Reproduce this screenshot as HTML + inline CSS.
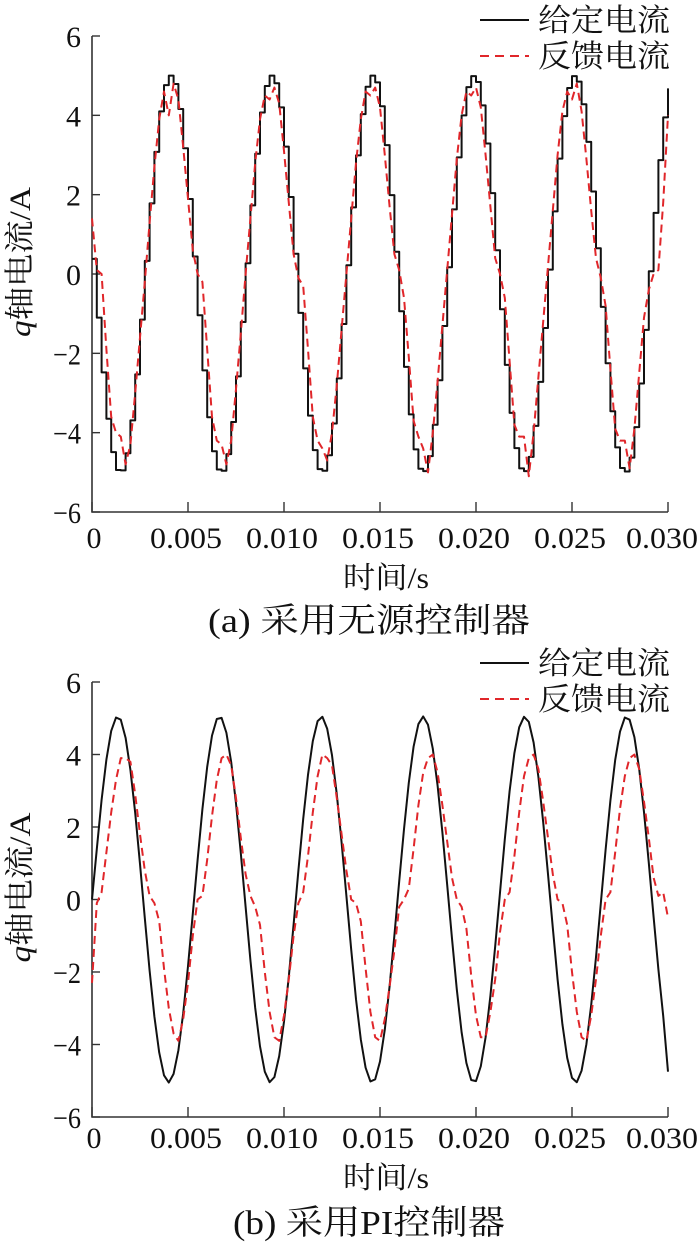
<!DOCTYPE html>
<html><head><meta charset="utf-8">
<style>
html,body{margin:0;padding:0;background:#fff;}
svg{display:block;}
text{font-family:"Liberation Serif","Noto Serif CJK SC","Noto Sans CJK SC",serif;fill:#111;}
</style></head>
<body>
<svg id="chart" xmlns="http://www.w3.org/2000/svg" width="700" height="1247" viewBox="0 0 700 1247"></svg>
<script>
const xTicks=[0,0.005,0.010,0.015,0.020,0.025,0.030];
const xTickLabels=["0","0.005","0.010","0.015","0.020","0.025","0.030"];
const yTicks=[6,4,2,0,-2,-4,-6];
const yTickLabels=["6","4","2","0","\u22122","\u22124","\u22126"];
const sampleDt=0.00025;
// panel (a): passive controller
const refA=[0.38,-1.10,-2.48,-3.65,-4.49,-4.94,-4.95,-4.52,-3.69,-2.53,-1.15,0.33,1.78,3.08,4.10,4.76,5.00,4.79,4.16,3.17,1.89,
0.44,-1.04,-2.43,-3.61,-4.47,-4.93,-4.96,-4.54,-3.73,-2.58,-1.21,0.27,1.73,3.03,4.07,4.74,5.00,4.81,4.20,3.21,1.94,
0.51,-0.98,-2.38,-3.57,-4.44,-4.92,-4.96,-4.57,-3.77,-2.63,-1.26,0.22,1.68,2.99,4.03,4.72,5.00,4.83,4.23,3.25,1.99,
0.56,-0.94,-2.34,-3.54,-4.42,-4.91,-4.97,-4.59,-3.80,-2.68,-1.31,0.17,1.63,2.94,4.00,4.71,4.99,4.84,4.25,3.29,2.04,
0.60,-0.89,-2.29,-3.50,-4.39,-4.90,-4.97,-4.61,-3.83,-2.72,-1.36,0.11,1.58,2.91,3.98,4.69,4.99,4.85,4.28,3.33,2.08,
0.65,-0.83,-2.25,-3.46,-4.37,-4.89,-4.98,-4.63,-3.86,-2.76,-1.41,0.07,1.54,2.87,3.95,4.68];
const fbA=[1.4,0.1,0.0,-1.9,-3.6,-4.0,-4.1,-4.8,-4.3,-3.0,-1.6,-0.2,1.3,2.7,3.9,4.6,4.0,4.8,4.4,3.2,1.9,
0.6,0.0,-0.2,-1.9,-3.6,-4.2,-4.3,-4.8,-4.2,-2.9,-1.5,0.0,1.4,2.8,3.9,4.5,4.4,4.7,4.3,3.1,1.8,
0.5,-0.1,-0.3,-1.9,-3.6,-4.2,-4.4,-4.7,-4.0,-2.8,-1.4,0.0,1.4,2.8,3.9,4.6,4.5,4.7,4.2,3.0,1.7,
0.5,0.1,-0.6,-2.1,-3.7,-4.1,-4.4,-5.0,-4.0,-2.7,-1.3,0.1,1.5,2.9,4.0,4.6,4.5,4.7,4.2,3.0,1.7,
0.4,0.0,-0.6,-2.2,-3.8,-4.1,-4.1,-5.1,-4.0,-2.6,-1.2,0.2,1.6,3.0,4.1,4.6,4.4,4.8,4.1,2.9,1.6,
0.4,-0.1,-0.8,-2.4,-3.9,-4.2,-4.2,-4.9,-3.9,-2.5,-1.1,-0.4,0.0,0.1,1.8,4.0];
// panel (b): PI controller
const refB=[0.0,1.39,2.75,3.86,4.65,5.02,4.96,4.46,3.58,2.39,0.98,-0.51,-1.96,-3.23,-4.22,-4.85,-5.05,-4.81,-4.16,-3.14,-1.84,
-0.39,1.09,2.49,3.66,4.52,4.98,5.01,4.60,3.79,2.65,1.28,-0.20,-1.67,-2.99,-4.05,-4.75,-5.04,-4.90,-4.32,-3.37,-2.13,
-0.69,0.80,2.22,3.44,4.37,4.92,5.04,4.71,3.98,2.90,1.57,0.10,-1.38,-2.75,-3.86,-4.64,-5.02,-4.96,-4.47,-3.59,-2.39,
-0.99,0.50,1.94,3.22,4.22,4.84,5.05,4.82,4.16,3.14,1.85,0.40,-1.08,-2.48,-3.66,-4.51,-4.98,-5.01,-4.60,-3.80,-2.66,
-1.29,0.19,1.66,2.99,4.04,4.75,5.04,4.90,4.33,3.38,2.13,0.70,-0.78,-2.21,-3.44,-4.37,-4.92,-5.04,-4.72,-3.99,-2.91,
-1.59,-0.11,1.37,2.73,3.85,4.63,5.02,4.96,4.48,3.60,2.41,1.01,-0.48,-1.93,-3.21,-4.75];
const fbB=[-2.3,-0.1,0.2,1.3,2.4,3.3,3.9,3.9,3.8,2.9,1.8,0.8,0.1,-0.1,-0.6,-1.9,-3.0,-3.7,-3.9,-3.3,-2.3,
-1.0,0.0,0.1,1.1,2.3,3.3,3.9,4.0,3.7,2.8,1.7,0.7,0.1,-0.2,-0.7,-2.0,-3.1,-3.8,-3.9,-3.2,-2.2,
-1.0,-0.1,0.2,1.2,2.4,3.4,4.0,3.9,3.7,2.8,1.8,0.8,0.0,-0.1,-0.6,-1.9,-3.1,-3.8,-3.9,-3.3,-2.4,-1.4,
-0.2,0.0,0.3,1.4,2.6,3.5,3.9,4.0,3.5,2.6,1.6,0.6,0.0,-0.2,-0.8,-2.1,-3.2,-3.8,-3.8,-3.1,-2.2,
-0.9,0.0,0.2,1.2,2.4,3.4,3.9,4.0,3.6,2.7,1.7,0.7,0.0,-0.1,-0.7,-2.0,-3.1,-3.8,-3.9,-3.2,-2.2,
-1.0,0.0,0.2,1.3,2.5,3.4,3.9,4.0,3.6,2.7,1.7,0.6,0.1,0.2,-0.5];

const NS="http://www.w3.org/2000/svg";
const svg=document.getElementById('chart');
function mk(tag,parent){const e=document.createElementNS(NS,tag);parent.appendChild(e);return e;}

function panel(cfg){
  const g=mk('g',svg);
  
  
  const x0=92,x1=668,yTop=cfg.yTop,yBot=cfg.yBot;
  const sx=t=>x0+(t-0)/(0.030-0)*(x1-x0);
  const sy=v=>yBot-(v+6)/12*(yBot-yTop);
  const ax=mk('path',g);
  
  
  ax.setAttribute('d',`M${x0},${yTop} V${yBot} H${x1}`);
  ax.setAttribute('fill','none');ax.setAttribute('stroke','#333');ax.setAttribute('stroke-width','1.6');
  yTicks.forEach((v,i)=>{
    const t=mk('line',g);
    
    
    t.setAttribute('x1',x0);t.setAttribute('x2',x0+8);t.setAttribute('y1',sy(v));t.setAttribute('y2',sy(v));
    t.setAttribute('stroke','#333');t.setAttribute('stroke-width','1.4');
    const l=mk('text',g);
    
    
    l.setAttribute('x',81);l.setAttribute('y',sy(v)+11);l.setAttribute('text-anchor','end');
    l.setAttribute('font-size','30');
    if(yTickLabels[i].length>1){l.setAttribute('textLength','28');l.setAttribute('lengthAdjust','spacingAndGlyphs');}
    l.textContent=yTickLabels[i];
  });
  xTicks.forEach((v,i)=>{
    const t=mk('line',g);
    
    
    t.setAttribute('x1',sx(v));t.setAttribute('x2',sx(v));t.setAttribute('y1',yBot);t.setAttribute('y2',yBot-10);
    t.setAttribute('stroke','#333');t.setAttribute('stroke-width','1.4');
    const l=mk('text',g);
    
    
    l.setAttribute('x',i===0?sx(v)+2:(i===6?sx(v)-6:sx(v)-2));l.setAttribute('y',yBot+cfg.tickDy);l.setAttribute('text-anchor','middle');
    l.setAttribute('font-size','30');
    if(xTickLabels[i].length>1){l.setAttribute('textLength','72');l.setAttribute('lengthAdjust','spacingAndGlyphs');}
    l.textContent=xTickLabels[i];
  });
  const xt=mk('text',g);
  
  
  xt.setAttribute('x',386);xt.setAttribute('y',cfg.xTitleY);xt.setAttribute('text-anchor','middle');
  xt.setAttribute('font-size','30');xt.setAttribute('textLength','86');xt.setAttribute('lengthAdjust','spacingAndGlyphs');
  xt.textContent='时间/s';
  const yc=(yTop+yBot)/2-12;
  const yt=mk('text',g);
  
  
  yt.setAttribute('transform',`translate(30,${yc}) rotate(-90)`);
  yt.setAttribute('text-anchor','middle');yt.setAttribute('font-size','30');
  yt.setAttribute('textLength','150');yt.setAttribute('lengthAdjust','spacingAndGlyphs');
  const q=mk('tspan',yt);q.setAttribute('font-style','italic');q.textContent='q';
  const rest=mk('tspan',yt);rest.textContent='轴电流/A';
  const cap=mk('text',g);
  
  
  cap.setAttribute('x',cfg.capX);cap.setAttribute('y',cfg.capY);
  cap.setAttribute('font-size','34');cap.setAttribute('textLength',cfg.capLen);cap.setAttribute('lengthAdjust','spacingAndGlyphs');
  cap.textContent=cfg.caption;
  function series(vals,step,color,dash,name){
    let d='';
    vals.forEach((v,i)=>{
      const x=sx(i*sampleDt),y=sy(v);
      if(i===0) d+=`M${x},${y}`;
      else if(step){ d+=` H${x} V${y}`; }
      else d+=` L${x},${y}`;
    });
    if(step) d+=` H${sx((vals.length-1)*sampleDt)}`;
    const p=mk('path',g);
    
    
    p.setAttribute('d',d);p.setAttribute('fill','none');p.setAttribute('stroke',color);
    p.setAttribute('stroke-width','2');p.setAttribute('stroke-linejoin','round');
    if(dash) p.setAttribute('stroke-dasharray',dash);
  }
  series(cfg.ref,cfg.step,'#111',null,'reference-current-line');
  series(cfg.fb,false,'#e0262a','8 5','feedback-current-line');
  const lg=mk('g',g);
  
  
  [[cfg.legY,'#111',null,'给定电流','legend-entry-reference'],[cfg.legY+36,'#e0262a','8 5','反馈电流','legend-entry-feedback']].forEach(r=>{
    const e=mk('g',lg);
    
    
    const ln=mk('line',e);
    ln.setAttribute('x1',480);ln.setAttribute('x2',529);ln.setAttribute('y1',r[0]);ln.setAttribute('y2',r[0]);
    ln.setAttribute('stroke',r[1]);ln.setAttribute('stroke-width','2');
    if(r[2]) ln.setAttribute('stroke-dasharray','9 6');
    const tx=mk('text',e);
    tx.setAttribute('x',538);tx.setAttribute('y',r[0]+11);tx.setAttribute('font-size','31');
    tx.setAttribute('textLength','132');tx.setAttribute('lengthAdjust','spacingAndGlyphs');
    tx.textContent=r[3];
  });
}
panel({name:'panel-a-passive-controller',yTop:36,yBot:512,ref:refA,fb:fbA,step:true,tickDy:36,xTitleY:588,capX:208,capY:632,capLen:322,caption:'(a) 采用无源控制器',legY:20});
panel({name:'panel-b-pi-controller',yTop:682,yBot:1117,ref:refB,fb:fbB,step:false,tickDy:31,xTitleY:1188,capX:233,capY:1234,capLen:272,caption:'(b) 采用PI控制器',legY:663});
</script>
</body></html>
